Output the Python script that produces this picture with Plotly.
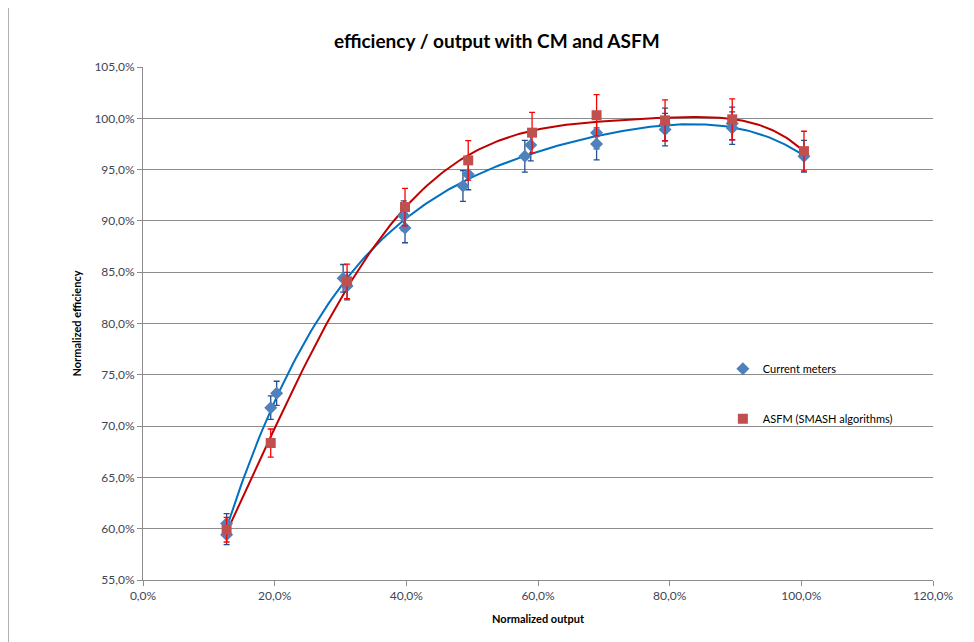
import numpy as np
import plotly.graph_objects as go

# Current meters (CM) measurements: normalized output, normalized efficiency
cm_output = [0.127, 0.127, 0.194, 0.203, 0.304, 0.310, 0.396, 0.398, 0.486, 0.494,
             0.580, 0.589, 0.689, 0.689, 0.793, 0.793, 0.895, 0.895, 1.004]
cm_eff = [0.594, 0.605, 0.718, 0.732, 0.844, 0.8365, 0.905, 0.893, 0.934, 0.9455,
          0.963, 0.974, 0.986, 0.975, 0.994, 0.989, 0.9905, 0.995, 0.963]
cm_err_pct = 1.6

# ASFM (SMASH algorithms) measurements
asfm_output = [0.127, 0.194, 0.310, 0.398, 0.494, 0.591, 0.689, 0.793, 0.895, 1.004]
asfm_eff = [0.599, 0.6835, 0.841, 0.9135, 0.959, 0.986, 1.003, 0.998, 0.999, 0.968]
asfm_err_pct = 2.0

x_ticks = [0, 0.2, 0.4, 0.6, 0.8, 1.0, 1.2]
y_ticks = [0.55, 0.60, 0.65, 0.70, 0.75, 0.80, 0.85, 0.90, 0.95, 1.00, 1.05]

FONT = "Lato"
TICK_COLOR = "#3c4656"

# polynomial trend lines (as the spreadsheet trendlines)
cm_coef = np.polyfit(cm_output, cm_eff, 4)
asfm_coef = np.polyfit(asfm_output, asfm_eff, 5)
cm_tx = np.linspace(min(cm_output), max(cm_output), 200)
asfm_tx = np.linspace(min(asfm_output), max(asfm_output), 200)

fig = go.Figure()

fig.add_trace(go.Scatter(
    x=cm_tx, y=np.polyval(cm_coef, cm_tx), mode="lines",
    line=dict(color="#0070C0", width=2), showlegend=False, hoverinfo="skip"))
fig.add_trace(go.Scatter(
    x=asfm_tx, y=np.polyval(asfm_coef, asfm_tx), mode="lines",
    line=dict(color="#C00000", width=2), showlegend=False, hoverinfo="skip"))

fig.add_trace(go.Scatter(
    x=cm_output, y=cm_eff, mode="markers", name="Current meters",
    legendgroup="cm",
    marker=dict(symbol="diamond", size=10, color="#4F81BD"),
    error_y=dict(type="percent", value=cm_err_pct, color="#254E8C",
                 thickness=1.3, width=3)))
fig.add_trace(go.Scatter(
    x=asfm_output, y=asfm_eff, mode="markers", name="ASFM (SMASH algorithms)",
    legendgroup="asfm",
    marker=dict(symbol="square", size=10, color="#C0504D"),
    error_y=dict(type="percent", value=asfm_err_pct, color="#FF0000",
                 thickness=1.3, width=3)))

fig.update_layout(
    width=966, height=634,
    margin=dict(l=135, r=41, t=59, b=62),
    paper_bgcolor="white", plot_bgcolor="white",
    separators=",.",
    font=dict(family=FONT, size=12, color="black"),
    title=dict(text="<b>efficiency / output with CM and ASFM</b>",
               x=0.506, xanchor="center", y=0.948, yanchor="middle",
               font=dict(family=FONT, size=19, color="black")),
    legend=dict(x=0.734, y=0.44, xanchor="left", yanchor="top",
                bgcolor="rgba(0,0,0,0)", tracegroupgap=31,
                itemwidth=30,
                font=dict(family=FONT, size=11, color="black")),
    xaxis=dict(range=[0, 1.2], tickvals=x_ticks, tickformat=".1%",
               showgrid=False, zeroline=False,
               showline=True, linecolor="#8c8c8c", linewidth=1,
               ticks="outside", ticklen=5, tickcolor="#8c8c8c",
               tickfont=dict(family=FONT, size=12, color=TICK_COLOR),
               title=dict(text="<b>Normalized output</b>", standoff=12,
                          font=dict(family=FONT, size=11, color="black"))),
    yaxis=dict(range=[0.55, 1.05], tickvals=y_ticks, tickformat=".1%",
               showgrid=True, gridcolor="#8c8c8c", gridwidth=1, zeroline=False,
               showline=True, linecolor="#8c8c8c", linewidth=1,
               ticks="outside", ticklen=5, tickcolor="#8c8c8c",
               tickfont=dict(family=FONT, size=12, color=TICK_COLOR),
               title=dict(text="<b>Normalized efficiency</b>", standoff=10,
                          font=dict(family=FONT, size=11, color="black"))),
    shapes=[dict(type="rect", xref="paper", yref="paper",
                 x0=-0.171, x1=1.06, y0=-0.13, y1=1.13,
                 line=dict(color="#888888", width=1.5), layer="below")],
)

fig.write_html("out.html")
